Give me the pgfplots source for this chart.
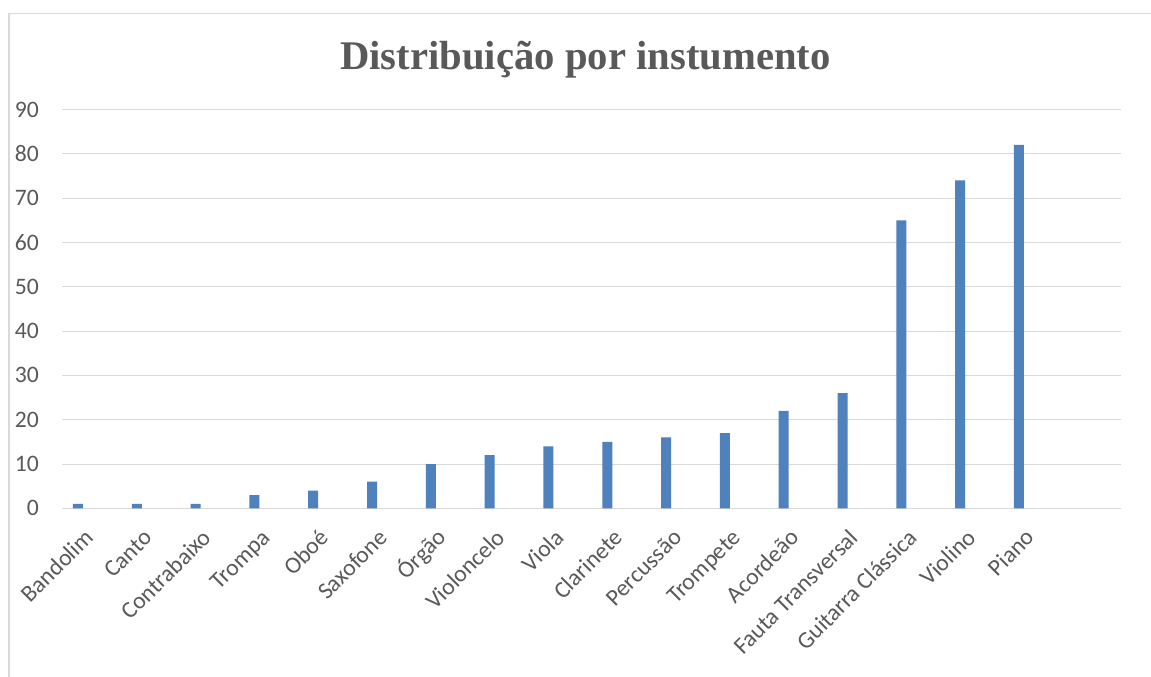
\documentclass[border=0pt]{standalone}
\usepackage{fontspec}
\setmainfont{Carlito}
\newfontfamily\titlefont{Liberation Serif}
\usepackage{pgfplots}
\pgfplotsset{compat=1.18}
\definecolor{barblue}{HTML}{4F81BD}
\definecolor{txtgray}{HTML}{595959}
\definecolor{gridgray}{HTML}{D9D9D9}
\begin{document}
\begin{tikzpicture}
\useasboundingbox (0,0) rectangle (863.25pt,507.75pt);
\fill[white] (0,0) rectangle (863.25pt,507.75pt);
\draw[gridgray, line width=0.9pt] (6.75pt,-20pt) -- (6.75pt,497.6pt) -- (900pt,497.6pt);
\node[anchor=base, text=txtgray, font={\titlefont\bfseries\fontsize{30.5}{36}\selectfont}] at (439.1pt,455.25pt) {Distribuição por instumento};
\begin{axis}[
  at={(46.5pt,126.5pt)}, anchor=south west,
  width=794.25pt, height=299.1pt, scale only axis,
  xmin=-0.272, xmax=17.735, ymin=0, ymax=90,
  ytick={0,10,...,90},
  xtick={0,...,16},
  xticklabels={Bandolim,Canto,Contrabaixo,Trompa,Oboé,Saxofone,Órgão,Violoncelo,Viola,Clarinete,Percussão,Trompete,Acordeão,Fauta Transversal,Guitarra Clássica,Violino,Piano},
  ymajorgrids, grid style={gridgray, line width=0.75pt},
  axis line style={draw=none}, tick style={draw=none},
  /pgf/number format/assume math mode=true,
  tick label style={text=txtgray, font={\fontsize{17.7}{20}\selectfont}, inner sep=0pt},
  yticklabel style={anchor=east, xshift=-17.25pt},
  xticklabel style={xshift=12.75pt, yshift=-23pt, rotate=45, anchor=base east},
]
\addplot[ybar, bar width=7.5pt, fill=barblue, draw=none] coordinates {
(0,1) (1,1) (2,1) (3,3) (4,4) (5,6) (6,10) (7,12) (8,14) (9,15) (10,16) (11,17) (12,22) (13,26) (14,65) (15,74) (16,82)
};
\end{axis}
\end{tikzpicture}
\end{document}
